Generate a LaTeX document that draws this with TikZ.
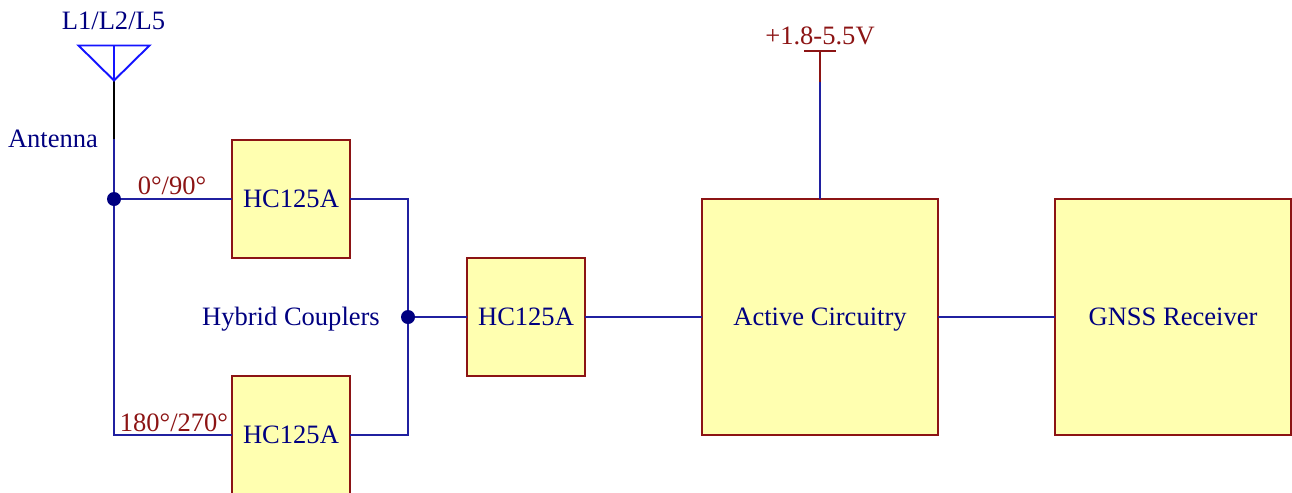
\documentclass[tikz,border=0pt]{standalone}
\usepackage{fontspec}
\setmainfont{Liberation Serif}
\usepackage{xcolor}
\usetikzlibrary{positioning}
\definecolor{boxfill}{RGB}{255,255,176}
\definecolor{boxline}{RGB}{140,20,20}
\definecolor{textblue}{RGB}{0,0,128}
\definecolor{wireblue}{RGB}{32,32,160}
\definecolor{antblue}{RGB}{20,20,255}

\begin{document}
\begin{tikzpicture}[
    node distance=2.34cm,
    blk/.style={rectangle, draw=boxline, fill=boxfill, line width=1.2pt, inner sep=0pt, outer sep=0pt, align=center, text=textblue, text height=10pt, text depth=0pt, font=\fontsize{15.1}{17}\selectfont},
    hyb/.style={blk, minimum width=2.36cm, minimum height=2.36cm},
    stage/.style={blk, minimum width=4.72cm, minimum height=4.72cm},
    wire/.style={draw=wireblue, line width=1.1pt},
    dot/.style={circle, fill=textblue, inner sep=0pt, outer sep=0pt, minimum size=0.28cm},
    lbl/.style={inner sep=0pt, text=textblue, text height=10pt, text depth=0pt, font=\fontsize{15.1}{17}\selectfont},
    phase/.style={lbl, text=boxline}
]
\useasboundingbox (0,0) rectangle (25.84,-9.84);
\clip (0,0) rectangle (25.84,-9.84);

% blocks
\node[hyb] (hybtop) at (5.82,-3.98) {HC125A};
\node[hyb] (hybbot) at (5.82,-8.70) {HC125A};
\node[hyb] (hybmid) at (10.52,-6.34) {HC125A};
\node[stage, right=of hybmid] (active) {Active Circuitry};
\node[stage, right=of active] (gnss) {GNSS Receiver};

% junctions and free ends
\node[dot] (feed) at (2.28,-3.98) {};
\node[dot] (join) at (8.16,-6.34) {};
\coordinate (anttip) at (2.28,-1.61);
\coordinate (antleft) at (1.57,-0.91);
\coordinate (antright) at (2.99,-0.91);
\coordinate (antmid) at (2.28,-0.91);
\coordinate (antjoin) at (2.28,-2.78);
\coordinate (vccbar) at (16.40,-1.02);
\coordinate (vccleft) at (16.08,-1.02);
\coordinate (vccright) at (16.72,-1.02);
\coordinate (vccjoin) at (16.40,-1.64);

% wires
\draw[wire] (antjoin) -- (feed);
\draw[wire] (feed) -- (hybtop);
\draw[wire] (feed) |- (hybbot);
\draw[wire] (hybtop) -| (join);
\draw[wire] (hybbot) -| (join);
\draw[wire] (join) -- (hybmid);
\draw[wire] (hybmid) -- (active);
\draw[wire] (active) -- (gnss);
\draw[wire] (vccjoin) -- (active);

% antenna
\draw[black, line width=1.1pt] (anttip) -- (antjoin);
\draw[antblue, line width=1.1pt, line join=miter] (antleft) -- (antright) -- (anttip) -- cycle;
\draw[antblue, line width=1.1pt] (antmid) -- (anttip);

% supply
\draw[boxline, line width=1.1pt] (vccbar) -- (vccjoin);
\draw[boxline, line width=1.1pt] (vccleft) -- (vccright);

% labels
\node[lbl] (bandlbl) at (2.27,-0.42) {L1/L2/L5};
\node[lbl] (antlbl) at (1.06,-2.78) {Antenna};
\node[lbl] (couplbl) at (5.82,-6.34) {Hybrid Couplers};
\node[phase] (phasea) at (3.44,-3.72) {0°/90°};
\node[phase] (phaseb) at (3.48,-8.45) {180°/270°};
\node[phase] (vcclbl) at (16.40,-0.72) {+1.8-5.5V};

\end{tikzpicture}
\end{document}
